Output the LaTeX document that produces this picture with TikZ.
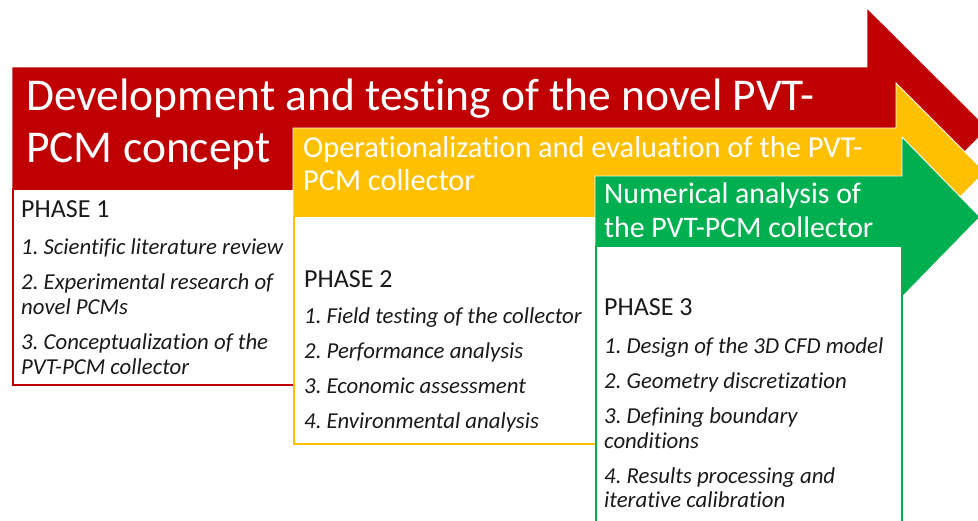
\documentclass[tikz,border=0pt]{standalone}
\usepackage{fontspec}
\setmainfont[Ligatures=NoCommon]{Carlito}
\definecolor{pred}{HTML}{C00000}
\definecolor{porange}{HTML}{FFC000}
\definecolor{pgreen}{HTML}{00B050}
\definecolor{ptext}{HTML}{1A1A1A}
\frenchspacing
\begin{document}
\begin{tikzpicture}[x=1pt,y=-1pt,
  arrowshape/.style={draw=white,line width=0.8pt},
  phasebox/.style={fill=white,line width=1.5pt},
  title/.style={anchor=base west,inner sep=0pt,text=white},
  bigtitle/.style={title,font=\fontsize{45.5}{50}\selectfont},
  subtitle/.style={title,font=\fontsize{30.4}{33}\selectfont},
  greentitle/.style={title,font=\fontsize{29.8}{33}\selectfont},
  item/.style={anchor=base west,inner sep=0pt,text=ptext,font=\fontsize{22.8}{24}\selectfont\itshape},
  phase/.style={anchor=base west,inner sep=0pt,text=ptext,font=\fontsize{26}{28}\selectfont}]
\useasboundingbox (0,0) rectangle (978,520);
\clip (0,0) rectangle (978,520);
% Phase 1
\path[fill=pred,arrowshape] (12,67) -- (867,67) -- (867,8) -- (988,128.5) -- (867,249) -- (867,189) -- (12,189) -- cycle;
\draw[pred,phasebox] (13,189) rectangle (294,385);
% Phase 2
\path[fill=porange,arrowshape] (293,128) -- (896,128) -- (896,83) -- (985,172) -- (896,261) -- (896,216) -- (293,216) -- cycle;
\draw[porange,phasebox] (294,216) rectangle (596,444);
% Phase 3
\path[fill=pgreen,arrowshape] (595,176) -- (902,176) -- (902,137) -- (980,217) -- (902,297) -- (902,246) -- (595,246) -- cycle;
\draw[pgreen,phasebox] (596,246) rectangle (902,530);
% titles
\node[bigtitle] (t1a) at (26,110) {Development and testing of the novel PVT-};
\node[bigtitle] (t1b) at (26,162) {PCM concept};
\node[subtitle] (t2a) at (303,157) {Operationalization and evaluation of the PVT-};
\node[subtitle] (t2b) at (303,190) {PCM collector};
\node[greentitle] (t3a) at (604,203) {Numerical analysis of};
\node[greentitle] (t3b) at (604,237) {the PVT-PCM collector};
% phase 1 content
\node[phase] (p1) at (21,217) {PHASE 1};
\node[item] (p1i1) at (21,254) {1. Scientific literature review};
\node[item] (p1i2a) at (21,289) {2. Experimental research of};
\node[item] (p1i2b) at (21,314) {novel PCMs};
\node[item] (p1i3a) at (21,349) {3. Conceptualization of the};
\node[item] (p1i3b) at (21,374) {PVT-PCM collector};
% phase 2 content
\node[phase] (p2) at (304,287) {PHASE 2};
\node[item] (p2i1) at (304,323) {1. Field testing of the collector};
\node[item] (p2i2) at (304,358) {2. Performance analysis};
\node[item] (p2i3) at (304,393) {3. Economic assessment};
\node[item] (p2i4) at (304,428) {4. Environmental analysis};
% phase 3 content
\node[phase] (p3) at (604,315) {PHASE 3};
\node[item] (p3i1) at (604,353) {1. Design of the 3D CFD model};
\node[item] (p3i2) at (604,388) {2. Geometry discretization};
\node[item] (p3i3a) at (604,423) {3. Defining boundary};
\node[item] (p3i3b) at (604,448) {conditions};
\node[item] (p3i4a) at (604,483) {4. Results processing and};
\node[item] (p3i4b) at (604,507) {iterative calibration};
\end{tikzpicture}
\end{document}
